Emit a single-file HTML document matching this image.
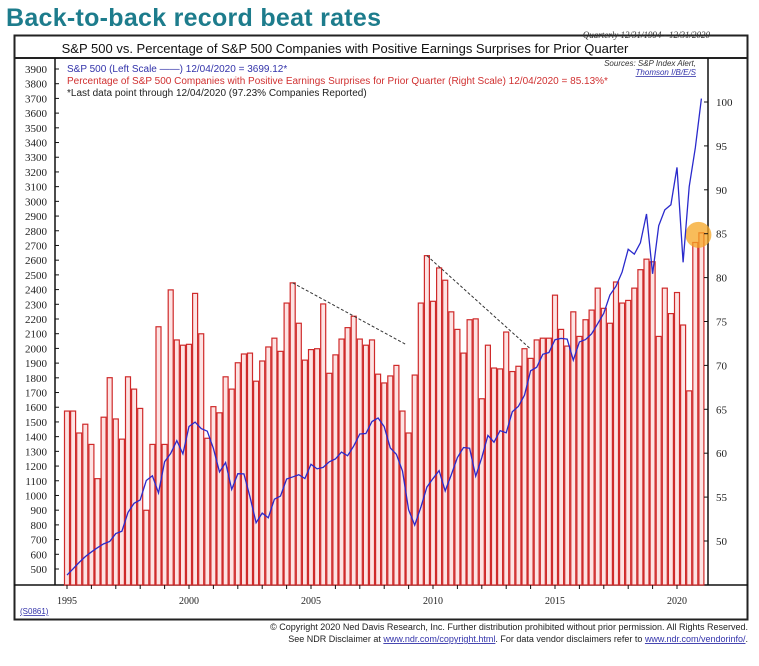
<!DOCTYPE html>
<html><head><meta charset="utf-8"><style>
body{margin:0;background:#fff;width:759px;height:661px;overflow:hidden;font-family:"Liberation Sans",sans-serif}
</style></head><body>
<svg id="c" width="759" height="661" xmlns="http://www.w3.org/2000/svg">
<text x="6" y="26" font-size="25" font-weight="bold" fill="#1d7c8c" textLength="375">Back-to-back record beat rates</text>
<rect x="14.5" y="35.5" width="733" height="584" fill="none" stroke="#222" stroke-width="2"/>
<line x1="14" y1="58" x2="748" y2="58" stroke="#222" stroke-width="2"/>
<text x="345" y="53" font-size="13" text-anchor="middle" fill="#111">S&amp;P 500 vs. Percentage of S&amp;P 500 Companies with Positive Earnings Surprises for Prior Quarter</text>
<text x="710" y="38" font-size="9" font-style="italic" text-anchor="end" font-family="Liberation Serif,serif" fill="#333">Quarterly 12/31/1994 - 12/31/2020</text>
<line x1="55" y1="58" x2="55" y2="585" stroke="#111" stroke-width="1.5"/>
<line x1="708" y1="58" x2="708" y2="585" stroke="#111" stroke-width="1.5"/>
<line x1="14" y1="585" x2="748" y2="585" stroke="#111" stroke-width="1.5"/>
<text x="67" y="72" font-size="10" fill="#3333aa">S&amp;P 500 (Left Scale ——) 12/04/2020 = 3699.12*</text>
<text x="67" y="84" font-size="10" fill="#d03030">Percentage of S&amp;P 500 Companies with Positive Earnings Surprises for Prior Quarter (Right Scale)  12/04/2020 = 85.13%*</text>
<text x="67" y="96" font-size="10" fill="#222">*Last data point through 12/04/2020 (97.23% Companies Reported)</text>
<text x="696" y="66" font-size="8" font-style="italic" text-anchor="end" fill="#333">Sources: S&amp;P Index Alert,</text>
<text x="696" y="75" font-size="8" font-style="italic" text-anchor="end" fill="#3333aa" text-decoration="underline">Thomson I/B/E/S</text>
<text x="20" y="614" font-size="8" fill="#3333aa" text-decoration="underline">(S0861)</text>
<text x="748" y="630" font-size="9" text-anchor="end" fill="#222">© Copyright 2020 Ned Davis Research, Inc.  Further distribution prohibited without prior permission.  All Rights Reserved.</text>
<text x="748" y="642" font-size="9" text-anchor="end" fill="#222">See NDR Disclaimer at <tspan fill="#3333aa" text-decoration="underline">www.ndr.com/copyright.html</tspan>. For data vendor disclaimers refer to <tspan fill="#3333aa" text-decoration="underline">www.ndr.com/vendorinfo/</tspan>.</text>
<g id="bars"></g><g id="axes"></g>
</svg>
<script>
const pctValues=[64.8,64.8,62.3,63.3,61.0,57.1,64.1,68.6,63.9,61.6,68.7,67.3,65.1,53.5,61.0,74.4,61.0,78.6,72.9,72.3,72.4,78.2,73.6,61.7,65.3,64.6,
68.7,67.3,70.3,71.3,71.4,68.2,70.5,72.1,73.1,71.6,77.1,79.4,74.8,70.6,71.8,71.9,77.0,69.1,71.2,73.0,74.3,75.6,73.0,72.3,72.9,69.0,
68.0,68.8,70.0,64.8,62.3,68.9,77.1,82.5,77.3,81.1,79.7,76.1,74.1,71.4,75.2,75.3,66.2,72.3,69.7,69.6,73.8,69.3,69.9,71.9,70.8,72.9,73.1,
73.1,78.0,74.1,72.2,76.1,73.3,75.2,76.3,78.8,76.5,74.8,79.5,77.1,77.4,78.8,80.9,82.1,81.8,73.3,78.8,75.9,78.3,74.6,67.1,84.0,85.1];
const spxValues=[459,501,545,584,616,645,671,687,741,757,885,947,970,1102,1134,1017,1229,1286,1373,1283,1469,1499,1455,1437,1320,1160,1224,1041,1148,1147,990,815,880,848,975,996,1112,1126,1141,1115,1212,1181,1191,1229,1248,1295,1270,1336,1418,1421,1503,1527,1468,1323,1280,1166,903,798,919,1057,1115,1169,1031,1141,1258,1326,1321,1131,1258,1408,1362,1441,1426,1569,1606,1682,1848,1872,1960,1972,2059,2068,2063,1920,2044,2060,2099,2168,2239,2363,2423,2519,2674,2641,2718,2914,2507,2834,2942,2977,3231,2585,3100,3363,3699];
const leftTicks=[500,600,700,800,900,1000,1100,1200,1300,1400,1500,1600,1700,1800,1900,2000,2100,2200,2300,2400,2500,2600,2700,2800,2900,3000,3100,3200,3300,3400,3500,3600,3700,3800,3900];
const rightTicks=[50,55,60,65,70,75,80,85,90,95,100];
const yearTicks=[1995,2000,2005,2010,2015,2020];
const NS="http://www.w3.org/2000/svg";
const xQ=i=>67+i*6.1;
const xYear=y=>67+(y-1995)*24.4;
const yL=v=>569-(v-500)*500/3400;
const yR=p=>541-(p-50)*8.78;
const BASE=585;
function mk(t,a){const e=document.createElementNS(NS,t);for(const k in a)e.setAttribute(k,a[k]);return e;}
const bars=document.getElementById('bars'),axes=document.getElementById('axes');
pctValues.forEach((p,i)=>{const y=yR(p);
 const r=mk('rect',{x:xQ(i)-2.5,y:y,width:5,height:BASE-y,fill:'#fde3e3',stroke:'#cf2a2a','stroke-width':1.2});
 
 
 bars.appendChild(r);});
// dashed trend lines starting at bar peaks: [start index, end x offset px, slope px/px]
[[37,114,0.544],[59,104,0.90]].forEach(([a,dx,s])=>{const x0=xQ(a),y0=yR(pctValues[a]);
 const l=mk('line',{x1:x0,y1:y0,x2:x0+dx,y2:y0+dx*s,stroke:'#333','stroke-width':1,'stroke-dasharray':'3,2'});
 
 
 bars.appendChild(l);});
const hl=mk('circle',{cx:xQ(104)-3,cy:yR(pctValues[104])+2,r:13,fill:'#f5a623',opacity:0.75});


bars.appendChild(hl);
const pts=spxValues.map((v,i)=>xQ(i)+','+yL(v)).join(' ');
const pl=mk('polyline',{points:pts,fill:'none',stroke:'#2a2acc','stroke-width':1.3});


bars.appendChild(pl);
leftTicks.forEach(v=>{const y=yL(v);
 axes.appendChild(mk('line',{x1:55,y1:y,x2:59,y2:y,stroke:'#111'}));
 const t=mk('text',{x:47,y:y+4,'font-size':11,'text-anchor':'end','font-family':'Liberation Serif,serif',fill:'#222'});
 t.textContent=v;
 
 
 axes.appendChild(t);});
rightTicks.forEach(v=>{const y=yR(v);
 axes.appendChild(mk('line',{x1:704,y1:y,x2:708,y2:y,stroke:'#111'}));
 const t=mk('text',{x:716,y:y+4,'font-size':11,'font-family':'Liberation Serif,serif',fill:'#222'});
 t.textContent=v;
 
 
 axes.appendChild(t);});
for(let y=1995;y<=2020;y++){const x=xYear(y);axes.appendChild(mk('line',{x1:x,y1:585,x2:x,y2:589,stroke:'#111'}));}
yearTicks.forEach(y=>{const t=mk('text',{x:xYear(y),y:604,'font-size':10,'text-anchor':'middle','font-family':'Liberation Serif,serif',fill:'#222'});
 t.textContent=y;
 
 
 axes.appendChild(t);});
</script>
</body></html>
